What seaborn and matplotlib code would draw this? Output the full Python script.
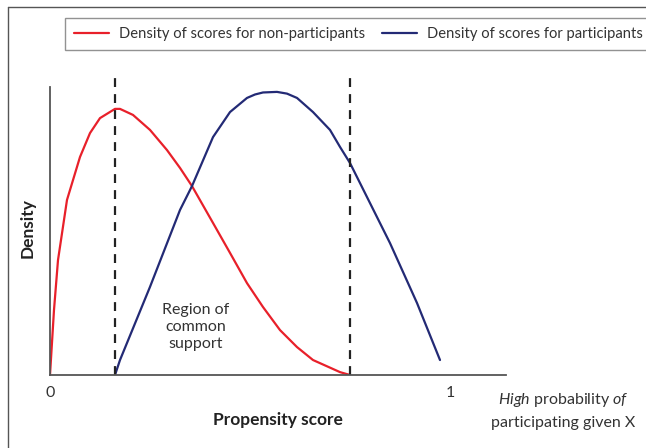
import matplotlib
matplotlib.use("Agg")
import matplotlib.pyplot as plt
from matplotlib.lines import Line2D
import seaborn as sns
import pandas as pd

# ---- data ----
red_x = [0, 0.01, 0.02, 0.0425, 0.075, 0.1, 0.125, 0.1625, 0.175, 0.2075, 0.25, 0.2925,
         0.325, 0.355, 0.4075, 0.45, 0.4925, 0.5325, 0.575, 0.6175, 0.6575, 0.725, 0.75]
red_y = [0, 0.226, 0.399, 0.608, 0.757, 0.840, 0.892, 0.924, 0.924, 0.903, 0.851, 0.781,
         0.719, 0.656, 0.528, 0.424, 0.319, 0.236, 0.156, 0.097, 0.052, 0.010, 0]
blue_x = [0.1625, 0.175, 0.25, 0.325, 0.355, 0.4075, 0.45, 0.4925, 0.5125, 0.5325, 0.5675,
          0.5925, 0.6175, 0.6575, 0.70, 0.725, 0.75, 0.85, 0.9175, 0.975]
blue_y = [0, 0.052, 0.306, 0.573, 0.656, 0.826, 0.913, 0.962, 0.974, 0.981, 0.983,
          0.977, 0.962, 0.913, 0.851, 0.792, 0.736, 0.458, 0.25, 0.052]
cutoffs = [0.1625, 0.75]
series_names = ["Density of scores for non-participants", "Density of scores for participants"]
tick_vals = [0, 1]
tick_labels = ["0", "1"]

sns.set_theme(style="white")
plt.rcParams["font.family"] = ["Lato", "DejaVu Sans"]
plt.rcParams["mathtext.fontset"] = "custom"
plt.rcParams["mathtext.rm"] = "Lato"
plt.rcParams["mathtext.it"] = "Lato:italic"

df = pd.concat([
    pd.DataFrame({"x": red_x, "y": red_y, "series": series_names[0]}),
    pd.DataFrame({"x": blue_x, "y": blue_y, "series": series_names[1]}),
])

W, H = 646, 448
fig = plt.figure(figsize=(W / 100, H / 100), dpi=100)
ax = fig.add_axes([50 / W, 73 / H, 456 / W, 288 / H])

red_c = "#e8202a"
blue_c = "#232a75"
sns.lineplot(data=df, x="x", y="y", hue="series", sort=False, estimator=None,
             palette=[red_c, blue_c], linewidth=1.6, ax=ax, legend=False)

for c in cutoffs:
    ax.plot([c, c], [0, 1.049], color="#222222", lw=1.6, linestyle=(0, (4, 3.2)),
            clip_on=False)

ax.set_xlim(0, 456 / 400)
ax.set_ylim(0, 1)
ax.set_xticks(tick_vals)
ax.set_xticklabels(tick_labels)
ax.set_yticks([])
ax.tick_params(axis="x", length=0, pad=8, labelsize=11.5, labelcolor="#333333")
for s in ["top", "right"]:
    ax.spines[s].set_visible(False)
for s in ["left", "bottom"]:
    ax.spines[s].set_color("#555555")
    ax.spines[s].set_linewidth(1.3)

ax.set_xlabel("")
ax.set_ylabel("")
fig.text(278 / W, 1 - 420 / H, "Propensity score", ha="center", va="center",
         fontsize=12.5, fontweight="bold", color="#222222")
fig.text(28 / W, 1 - 228 / H, "Density", ha="center", va="center", rotation=90,
         fontsize=12.5, fontweight="bold", color="#222222")
fig.text(563 / W, 1 - 400 / H, r"$\it{High}$ probability $\it{of}$", ha="center",
         va="center", fontsize=11.5, color="#333333")
fig.text(563 / W, 1 - 423 / H, "participating given X", ha="center", va="center",
         fontsize=11.5, color="#333333")
ax.text(0.365, 0.167, "Region of\ncommon\nsupport", ha="center", va="center",
        fontsize=11.5, color="#333333", linespacing=1.25)

handles = [Line2D([], [], color=red_c, lw=1.6), Line2D([], [], color=blue_c, lw=1.6)]
leg = fig.legend(handles, series_names, loc="upper left", bbox_to_anchor=(65 / W, 1 - 18 / H),
                 ncol=2, frameon=True, fancybox=False, fontsize=10.6, handlelength=2.4,
                 columnspacing=1.15, handletextpad=0.65, borderpad=0.62, borderaxespad=0)
leg.get_frame().set_edgecolor("#777777")
leg.get_frame().set_linewidth(1.0)
for t in leg.get_texts():
    t.set_color("#333333")

# outer frame (left & top edges)
fig.add_artist(Line2D([7.5 / W, 7.5 / W], [0, 1 - 7.5 / H], transform=fig.transFigure,
                      color="#555555", lw=1.0))
fig.add_artist(Line2D([7.5 / W, 1], [1 - 7.5 / H, 1 - 7.5 / H], transform=fig.transFigure,
                      color="#555555", lw=1.0))

fig.savefig("out.png", dpi=100)
